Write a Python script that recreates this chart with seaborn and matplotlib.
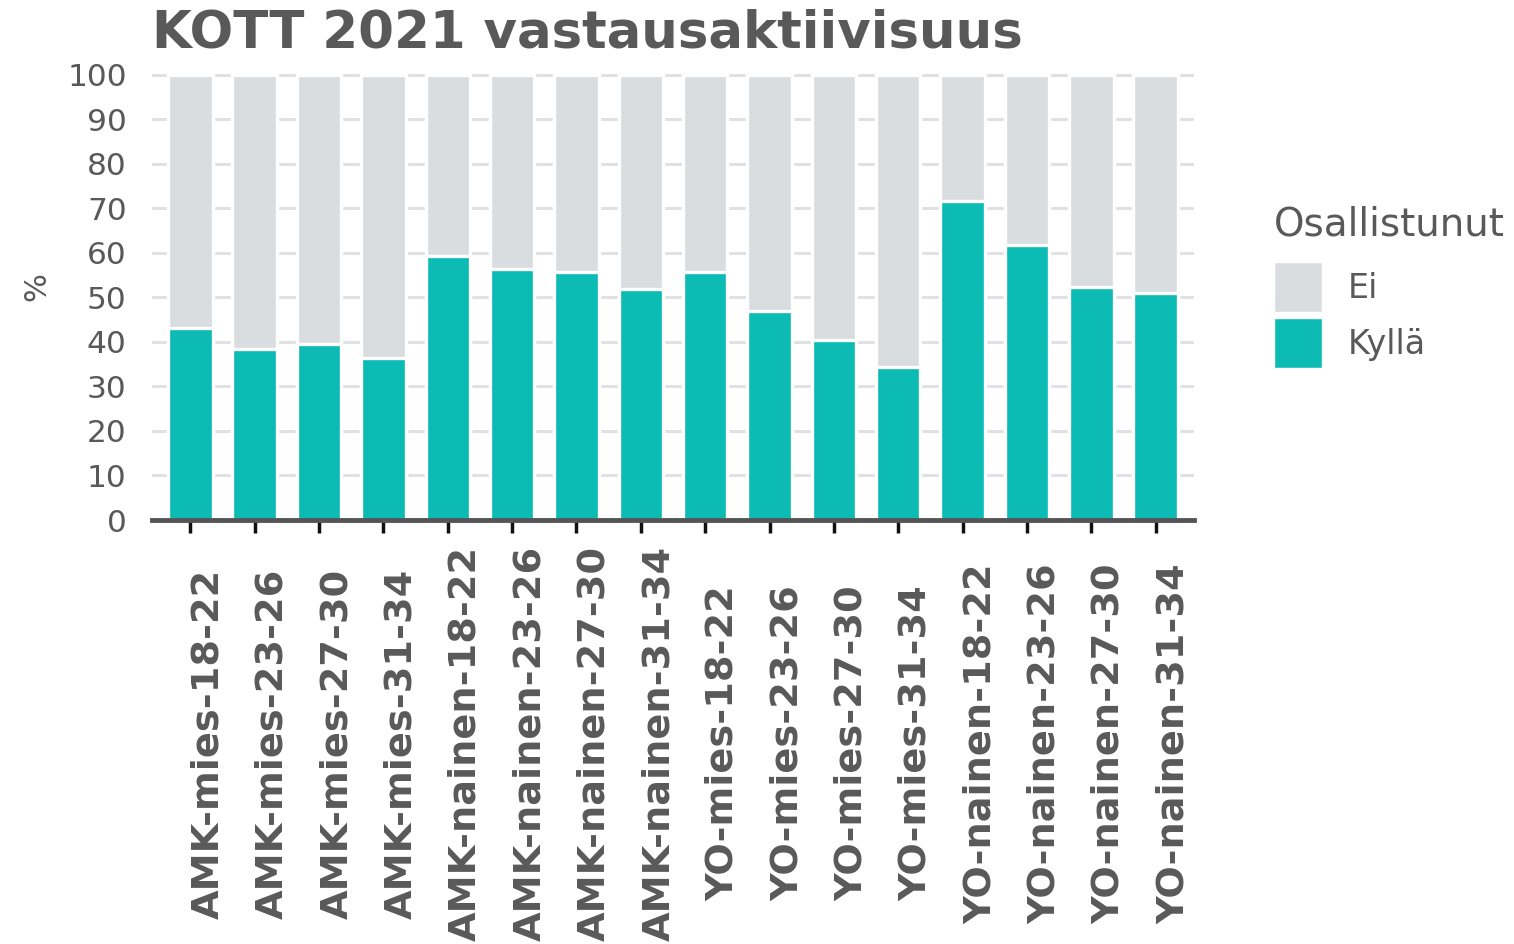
import matplotlib
matplotlib.use("Agg")
import matplotlib.pyplot as plt
import seaborn as sns
import pandas as pd
from matplotlib.patches import Patch

# --- data ---
ryhmat = [
    "AMK-mies-18-22", "AMK-mies-23-26", "AMK-mies-27-30", "AMK-mies-31-34",
    "AMK-nainen-18-22", "AMK-nainen-23-26", "AMK-nainen-27-30", "AMK-nainen-31-34",
    "YO-mies-18-22", "YO-mies-23-26", "YO-mies-27-30", "YO-mies-31-34",
    "YO-nainen-18-22", "YO-nainen-23-26", "YO-nainen-27-30", "YO-nainen-31-34",
]
kylla = [43.2, 38.5, 39.5, 36.5, 59.4, 56.3, 55.7, 52.0,
         55.7, 47.0, 40.4, 34.3, 71.7, 61.7, 52.3, 51.1]
ei = [56.8, 61.5, 60.5, 63.5, 40.6, 43.7, 44.3, 48.0,
      44.3, 53.0, 59.6, 65.7, 28.3, 38.3, 47.7, 48.9]
y_ticks = [0, 10, 20, 30, 40, 50, 60, 70, 80, 90, 100]

TITLE = "KOTT 2021 vastausaktiivisuus"
LEGEND_TITLE = "Osallistunut"
LEGEND_LABELS = ["Ei", "Kyllä"]

TEXT = "#595959"
TEAL = "#0DBBB5"
GREY = "#DADDE0"
GRID = "#E0E1E5"

df = pd.DataFrame({"ryhma": ryhmat, "Kyllä": kylla, "Ei": ei})
df["yhteensa"] = df["Kyllä"] + df["Ei"]

sns.set_style("white")
plt.rcParams["font.family"] = ["DejaVu Sans"]

fig = plt.figure(figsize=(15.14, 9.44), dpi=100)
ax = fig.add_axes([151.7 / 1514, 1 - 520 / 944, (1194.3 - 151.7) / 1514, (520 - 70.5) / 944])

# stacked bars: full height (Ei on top) first, then Kyllä over it
sns.barplot(data=df, x="ryhma", y="yhteensa", color=GREY, saturation=1,
            width=0.69, edgecolor="white", linewidth=2.4, errorbar=None, ax=ax)
sns.barplot(data=df, x="ryhma", y="Kyllä", color=TEAL, saturation=1,
            width=0.69, edgecolor="white", linewidth=2.4, errorbar=None, ax=ax)

ax.set_xlim(-0.6, len(ryhmat) - 0.4)
ax.set_ylim(0, 101)
ax.set_yticks(y_ticks)
ax.set_yticklabels([str(v) for v in y_ticks])

ax.set_axisbelow(True)
ax.yaxis.grid(True, color=GRID, linewidth=2.2)
ax.xaxis.grid(False)

for s in ["top", "right", "left"]:
    ax.spines[s].set_visible(False)
ax.spines["bottom"].set_color("#555555")
ax.spines["bottom"].set_linewidth(3.5)
ax.spines["bottom"].set_zorder(5)

ax.tick_params(axis="y", left=False, length=0, pad=18, labelsize=22.5, labelcolor=TEXT)
ax.tick_params(axis="x", bottom=True, direction="out", length=9, width=2.5,
               color="#111111", pad=152, labelsize=27.5, labelcolor=TEXT)
for lab in ax.get_xticklabels():
    lab.set_rotation(90)
    lab.set_fontweight("bold")
    lab.set_ha("left")
    lab.set_va("center")

ax.set_xlabel("")
ax.set_ylabel("%", fontsize=22, color=TEXT, va="center")
ax.yaxis.set_label_coords(-0.110, 0.52)

fig.text(152 / 1514, 1 - 48 / 944, TITLE, fontsize=37, fontweight="bold",
         color=TEXT, ha="left", va="baseline")

handles = [Patch(facecolor=GREY, edgecolor="white"), Patch(facecolor=TEAL, edgecolor="white")]
leg = fig.legend(handles, LEGEND_LABELS, title=LEGEND_TITLE, loc="upper left",
                 bbox_to_anchor=(1274 / 1514, 1 - 205 / 944), frameon=False,
                 borderaxespad=0, borderpad=0,
                 fontsize=24, title_fontsize=28, handlelength=1.45, handleheight=1.9,
                 labelspacing=0.2, handletextpad=0.75, alignment="left")
leg._legend_box.sep = 14
for t in leg.get_texts():
    t.set_color(TEXT)
leg.get_title().set_color(TEXT)

fig.savefig("out.png", dpi=100)
